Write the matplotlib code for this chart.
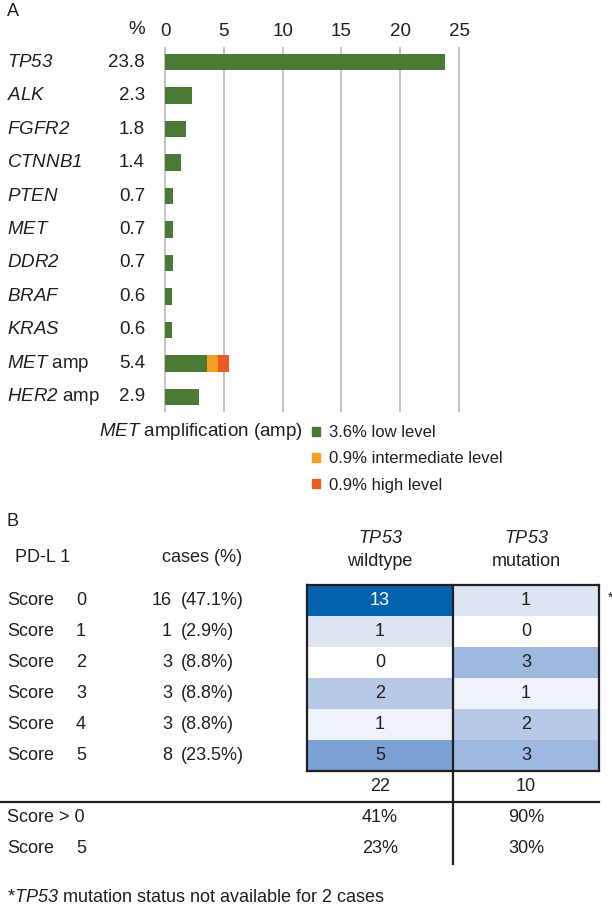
import numpy as np
import matplotlib
matplotlib.use("Agg")
import matplotlib.pyplot as plt
from matplotlib.patches import Patch
from matplotlib.transforms import blended_transform_factory

plt.rcParams['font.family'] = ['Liberation Sans', 'DejaVu Sans']
# everything inside $...$ is a gene name, so make the whole math font italic (digits too)
plt.rcParams['mathtext.fontset'] = 'custom'
plt.rcParams['mathtext.rm'] = 'Liberation Sans:italic'
plt.rcParams['mathtext.it'] = 'Liberation Sans:italic'
plt.rcParams['font.size'] = 13.5
plt.rcParams['text.color'] = '#231f20'

# Panel A: mutation frequencies (%)
genes = ['TP53', 'ALK', 'FGFR2', 'CTNNB1', 'PTEN', 'MET', 'DDR2', 'BRAF', 'KRAS', 'MET', 'HER2']
gene_suffix = ['', '', '', '', '', '', '', '', '', ' amp', ' amp']
freq = [23.8, 2.3, 1.8, 1.4, 0.7, 0.7, 0.7, 0.6, 0.6, 5.4, 2.9]
met_amp_levels = ['low level', 'intermediate level', 'high level']
met_amp_pct = [3.6, 0.9, 0.9]
x_ticks = [0, 5, 10, 15, 20, 25]

# Panel B: PD-L1 score vs TP53 status
scores = [0, 1, 2, 3, 4, 5]
cases = [16, 1, 3, 3, 3, 8]
cases_pct = ['47.1', '2.9', '8.8', '8.8', '8.8', '23.5']
tp53_groups = ['wildtype', 'mutation']
counts = np.array([[13, 1], [1, 0], [0, 3], [2, 1], [1, 2], [5, 3]])
totals = [22, 10]
score_pos_pct = [41, 90]
score5_pct = [23, 30]

# styles
green, orange, red = '#4a7a35', '#f5a025', '#e95a25'
ink = '#231f20'
fs_b = 13
cell_colors = [['#0563ae', '#dde5f3'],
               ['#dde5f3', '#ffffff'],
               ['#ffffff', '#9fb8df'],
               ['#b7c9e6', '#eef2f9'],
               ['#eef2f9', '#b7c9e6'],
               ['#7ba0d4', '#9fb8df']]

W, H = 612, 913
fig = plt.figure(figsize=(W / 100, H / 100), dpi=100)

# ---------------- Panel A ----------------
ux = 294 / 25
ax = fig.add_axes([(165 - 0.2 * ux) / W, 1 - 412 / H, (294 + 0.4 * ux) / W, 365 / H])
y = np.arange(len(genes))
met_idx = [i for i, (g, s) in enumerate(zip(genes, gene_suffix)) if g == 'MET' and s == ' amp'][0]
low = np.array(freq, dtype=float)
mid = np.zeros(len(genes))
high = np.zeros(len(genes))
low[met_idx], mid[met_idx], high[met_idx] = met_amp_pct

ax.barh(y, low, height=0.5, color=green)
ax.barh(y, mid, left=low, height=0.5, color=orange)
ax.barh(y, high, left=low + mid, height=0.5, color=red)

ax.set_xlim(-0.2, 25.2)
ax.set_ylim(len(genes) - 1 + 0.45, -0.45)
ax.set_xticks(x_ticks)
ax.xaxis.tick_top()
ax.tick_params(axis='x', length=0, pad=5, labelsize=13.5, labelcolor=ink)
ax.set_yticks([])
ax.grid(axis='x', color='#c0c0c0', linewidth=1.3)
ax.set_axisbelow(True)
for sp in ax.spines.values():
    sp.set_visible(False)

tr = blended_transform_factory(fig.transFigure, ax.transData)
for i, (g, s, v) in enumerate(zip(genes, gene_suffix, freq)):
    ax.text(7 / W, i, rf"${g}${s}", transform=tr, ha='left', va='center')
    ax.text(145 / W, i, f"{v}", transform=tr, ha='right', va='center')
fig.text(145 / W, 1 - 30 / H, '%', ha='right', va='center')
fig.text(7 / W, 1 - 11 / H, 'A', ha='left', va='center', fontsize=fs_b)

fig.text(303 / W, 1 - 432 / H, r"$MET$ amplification (amp)", ha='right', va='center')
handles = [Patch(color=c) for c in (green, orange, red)]
labels = [f"{p}% {lvl}" for p, lvl in zip(met_amp_pct, met_amp_levels)]
fig.legend(handles, labels, loc='upper left', bbox_to_anchor=(312 / W, 1 - 425 / H),
           frameon=False, handlelength=0.45, handleheight=0.45, handletextpad=0.55,
           labelspacing=0.68, borderpad=0, borderaxespad=0, fontsize=12)

# ---------------- Panel B ----------------
axt = fig.add_axes([307 / W, 1 - 771 / H, 292 / W, 186 / H])
rgb = np.array([[matplotlib.colors.to_rgb(c) for c in row] for row in cell_colors])
axt.imshow(rgb, aspect='auto', interpolation='nearest')
axt.set_xlim(-0.5, 1.5)
axt.set_ylim(5.5, -0.5)
axt.set_xticks([])
axt.set_yticks([])
for sp in axt.spines.values():
    sp.set_linewidth(1.6)
    sp.set_color(ink)

for i in range(counts.shape[0]):
    for j in range(counts.shape[1]):
        axt.text(j, i, str(counts[i, j]), ha='center', va='center', fontsize=fs_b,
                 color='white' if counts[i, j] >= 10 else ink)

axt.axvline(0.5, ymin=-0.5, ymax=1, color=ink, lw=1.6, clip_on=False)
axt.axhline(6.5, xmin=-307 / 292, xmax=1, color=ink, lw=1.6, clip_on=False)

for j, grp in enumerate(tp53_groups):
    axt.text(j, -2.0, r"$TP53$", ha='center', va='center', fontsize=fs_b)
    axt.text(j, -1.25, grp, ha='center', va='center', fontsize=fs_b)
    axt.text(j, 6, str(totals[j]), ha='center', va='center', fontsize=fs_b)
    axt.text(j, 7, f"{score_pos_pct[j]}%", ha='center', va='center', fontsize=fs_b)
    axt.text(j, 8, f"{score5_pct[j]}%", ha='center', va='center', fontsize=fs_b)

tb = blended_transform_factory(fig.transFigure, axt.transData)
axt.text(7 / W, -2.55, 'B', transform=tb, ha='left', va='center', fontsize=fs_b)
axt.text(15 / W, -1.4, 'PD-L 1', transform=tb, ha='left', va='center', fontsize=fs_b)
axt.text(202 / W, -1.4, 'cases (%)', transform=tb, ha='center', va='center', fontsize=fs_b)
for i, (s, n, p) in enumerate(zip(scores, cases, cases_pct)):
    axt.text(7 / W, i, 'Score', transform=tb, ha='left', va='center', fontsize=fs_b)
    axt.text(76 / W, i, str(s), transform=tb, ha='left', va='center', fontsize=fs_b)
    axt.text(172 / W, i, str(n), transform=tb, ha='right', va='center', fontsize=fs_b)
    axt.text(181 / W, i, f"({p}%)", transform=tb, ha='left', va='center', fontsize=fs_b)
axt.text(7 / W, 7, 'Score > 0', transform=tb, ha='left', va='center', fontsize=fs_b)
axt.text(7 / W, 8, 'Score', transform=tb, ha='left', va='center', fontsize=fs_b)
axt.text(76 / W, 8, str(scores[-1]), transform=tb, ha='left', va='center', fontsize=fs_b)
axt.text(1.56, -0.1, '*', ha='left', va='center', fontsize=10)

fig.text(7 / W, 1 - 897 / H, r"*$TP53$ mutation status not available for 2 cases",
         ha='left', va='center', fontsize=fs_b)

fig.savefig('out.png', dpi=100)
